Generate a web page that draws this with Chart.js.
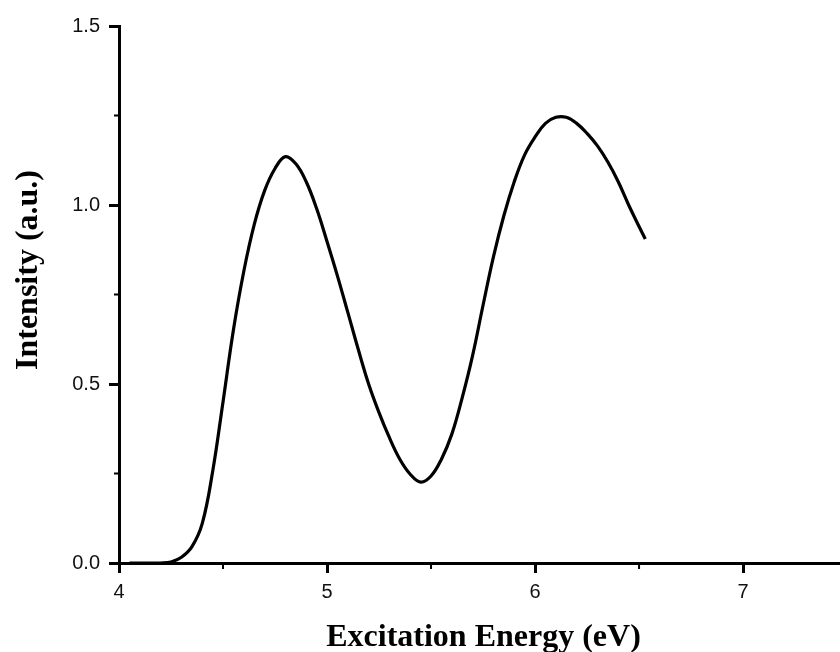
<!DOCTYPE html>
<html>
<head>
<meta charset="utf-8">
<script src="https://cdn.jsdelivr.net/npm/chart.js@4/dist/chart.umd.min.js"></script>
<style>
  html, body { margin: 0; padding: 0; background: #fff; }
  #wrap { width: 840px; height: 652px; }
</style>
</head>
<body>
<div id="wrap"><canvas id="c"></canvas></div>
<script>
// excitation energy (eV) and intensity (a.u.)
const energy = [
  4.05, 4.10, 4.15, 4.20, 4.25, 4.30, 4.35, 4.40, 4.45, 4.50,
  4.55, 4.60, 4.65, 4.70, 4.75, 4.80, 4.85, 4.90, 4.95, 5.00,
  5.05, 5.10, 5.15, 5.20, 5.25, 5.30, 5.35, 5.40, 5.45, 5.50,
  5.55, 5.60, 5.65, 5.70, 5.75, 5.80, 5.85, 5.90, 5.95, 6.00,
  6.05, 6.10, 6.15, 6.20, 6.25, 6.30, 6.35, 6.40, 6.45, 6.50, 6.53
];
const intensity = [
  0.0, 0.0, 0.0, 0.0, 0.003, 0.016, 0.045, 0.11, 0.255, 0.45,
  0.651, 0.815, 0.945, 1.04, 1.102, 1.135, 1.115, 1.065, 0.99, 0.898,
  0.802, 0.70, 0.597, 0.50, 0.42, 0.35, 0.29, 0.248, 0.226, 0.243,
  0.29, 0.36, 0.462, 0.58, 0.72, 0.855, 0.97, 1.065, 1.14, 1.19,
  1.228, 1.245, 1.245, 1.228, 1.20, 1.165, 1.12, 1.065, 1.0, 0.94, 0.905
];

const xMajor = [4, 5, 6, 7];
const xMinor = [4.5, 5.5, 6.5, 7.5];
const yMajor = [0, 0.5, 1.0, 1.5];
const yMinor = [0.25, 0.75, 1.25];

const xTitle = 'Excitation Energy (eV)';
const yTitle = 'Intensity (a.u.)';

const points = energy.map((e, i) => ({ x: e, y: intensity[i] }));

const tickFont = { family: '"Liberation Sans", Arial, sans-serif', size: 20 };
const titleFont = 'bold 32px "Liberation Serif", "Times New Roman", serif';

// short minor ticks plus the two axis titles
const extras = {
  id: 'extras',
  afterDraw(chart) {
    const { ctx, chartArea: a, scales: { x, y } } = chart;
    ctx.save();
    ctx.strokeStyle = '#000';
    ctx.lineWidth = 2;
    ctx.beginPath();
    xMinor.forEach(v => {
      const px = x.getPixelForValue(v);
      if (px > a.right) return;
      ctx.moveTo(px, a.bottom);
      ctx.lineTo(px, a.bottom + 6);
    });
    yMinor.forEach(v => {
      const py = y.getPixelForValue(v);
      ctx.moveTo(a.left, py);
      ctx.lineTo(a.left - 5, py);
    });
    ctx.stroke();

    ctx.fillStyle = '#000';
    ctx.font = titleFont;
    ctx.textAlign = 'center';
    ctx.textBaseline = 'alphabetic';
    ctx.fillText(xTitle, (a.left + a.right) / 2 + 4, a.bottom + 83);

    ctx.translate(a.left - 82, a.top + 244);
    ctx.rotate(-Math.PI / 2);
    ctx.fillText(yTitle, 0, 0);
    ctx.restore();
  }
};

new Chart(document.getElementById('c'), {
  type: 'scatter',
  data: {
    datasets: [{
      data: points,
      showLine: true,
      borderColor: '#000',
      borderWidth: 3.2,
      pointRadius: 0,
      tension: 0.4,
      fill: false
    }]
  },
  options: {
    responsive: true,
    maintainAspectRatio: false,
    animation: false,
    layout: { padding: { top: 26, right: 0, left: 0, bottom: 0 } },
    plugins: { legend: { display: false }, tooltip: { enabled: false } },
    scales: {
      x: {
        type: 'linear',
        min: 4,
        max: 7.466,
        afterBuildTicks: s => { s.ticks = xMajor.map(v => ({ value: v })); },
        afterFit: s => { s.height = 89; },
        border: { display: true, color: '#000', width: 3 },
        grid: { drawOnChartArea: false, drawTicks: true, tickLength: 10, tickWidth: 3, tickColor: '#000' },
        ticks: { color: '#111', font: tickFont, padding: 7, maxRotation: 0, callback: v => String(v) }
      },
      y: {
        type: 'linear',
        min: 0,
        max: 1.5,
        afterBuildTicks: s => { s.ticks = yMajor.map(v => ({ value: v })); },
        afterFit: s => { s.width = 119; },
        border: { display: true, color: '#000', width: 3 },
        grid: { drawOnChartArea: false, drawTicks: true, tickLength: 10, tickWidth: 3, tickColor: '#000' },
        ticks: { color: '#111', font: tickFont, padding: 9, callback: v => Number(v).toFixed(1) }
      }
    }
  },
  plugins: [extras]
});
</script>
</body>
</html>
